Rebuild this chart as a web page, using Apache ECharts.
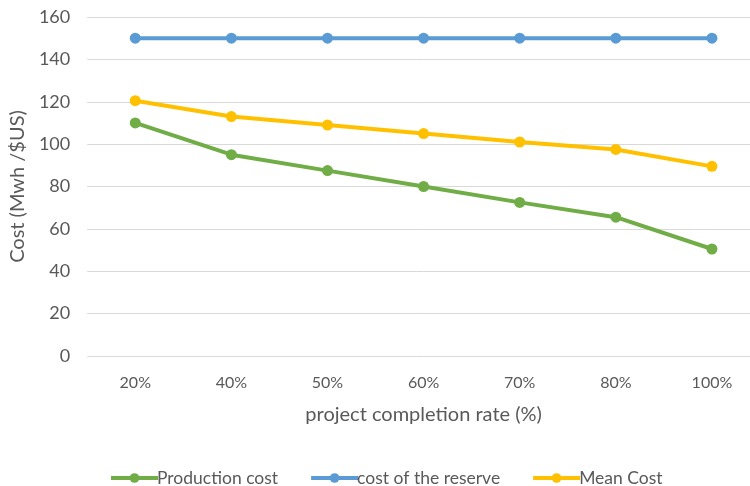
<!DOCTYPE html>
<html>
<head>
<meta charset="utf-8">
<script src="https://cdn.jsdelivr.net/npm/echarts@6/dist/echarts.min.js"></script>
<style>
  html, body { margin: 0; padding: 0; background: #fff; overflow: hidden; }
  /* plot runs slightly past the right edge of the page */
  #chart { width: 760px; height: 486px; }
</style>
</head>
<body>
<div id="chart"></div>
<script>
const categories = ['20%', '40%', '50%', '60%', '70%', '80%', '100%'];
const productionCost = [110, 95, 87.5, 80, 72.5, 65.5, 50.5];
const reserveCost = [150, 150, 150, 150, 150, 150, 150];
const meanCost = [120.5, 113, 109, 105, 101, 97.5, 89.5];
const yTicks = { min: 0, max: 160, interval: 20 };

const FONT = 'Lato, "Open Sans", sans-serif';
const TEXT = '#595959';

const chart = echarts.init(document.getElementById('chart'));

function lineSeries(name, data, color) {
  return {
    name: name,
    type: 'line',
    data: data,
    symbol: 'circle',
    symbolSize: 11,
    lineStyle: { width: 4, color: color },
    itemStyle: { color: color },
    emphasis: { disabled: true }
  };
}

chart.setOption({
  animation: false,
  textStyle: { fontFamily: FONT },
  grid: { left: 87, top: 17, right: 0, height: 339 },
  xAxis: {
    type: 'category',
    data: categories,
    boundaryGap: true,
    axisLine: { show: false },
    axisTick: { show: false },
    axisLabel: { color: TEXT, fontSize: 16, margin: 19, fontFamily: FONT },
    name: 'project completion rate (%)',
    nameLocation: 'middle',
    nameGap: 49,
    nameTextStyle: { color: TEXT, fontSize: 20, fontFamily: FONT }
  },
  yAxis: {
    type: 'value',
    min: yTicks.min,
    max: yTicks.max,
    interval: yTicks.interval,
    axisLine: { show: false },
    axisTick: { show: false },
    splitLine: { lineStyle: { color: '#d9d9d9', width: 1 } },
    axisLabel: { color: TEXT, fontSize: 18, margin: 17, fontFamily: FONT },
    name: 'Cost (Mwh /$US)',
    nameLocation: 'middle',
    nameGap: 47,
    nameTextStyle: { color: TEXT, fontSize: 20, fontFamily: FONT }
  },
  legend: {
    left: 104,
    top: 464,
    itemWidth: 47,
    itemHeight: 12,
    itemGap: 31,
    lineStyle: { width: 4 },
    textStyle: { color: TEXT, fontSize: 17.5, fontFamily: FONT, padding: [0, 0, 0, -6] },
    data: ['Production cost', 'cost of the reserve', 'Mean Cost']
  },
  series: [
    lineSeries('Production cost', productionCost, '#70AD47'),
    lineSeries('cost of the reserve', reserveCost, '#5B9BD5'),
    lineSeries('Mean Cost', meanCost, '#FFC000')
  ]
});
</script>
</body>
</html>
